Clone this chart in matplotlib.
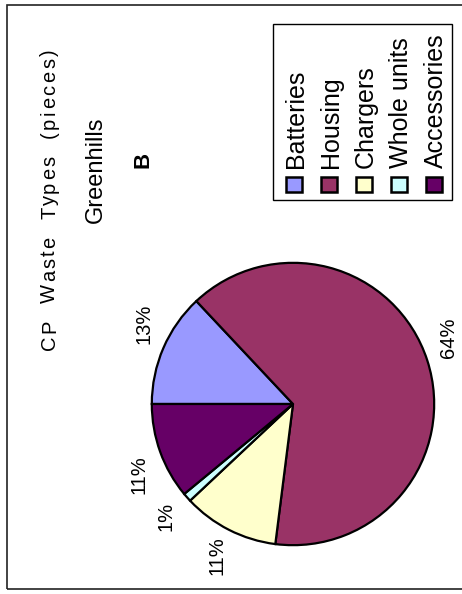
import numpy as np
import matplotlib
matplotlib.use("Agg")
import matplotlib.pyplot as plt
from matplotlib.patches import Rectangle
from matplotlib.font_manager import FontProperties

# ---- data ----
categories = ["Batteries", "Housing", "Chargers", "Whole units", "Accessories"]
values = [13, 64, 11, 1, 11]
colors = ["#9999FF", "#993366", "#FFFFCC", "#CCFFFF", "#660066"]
title = "CP Waste Types (pieces)"
subtitle = "Greenhills"
panel = "B"

# label angle nudges (degrees) to mimic the original label placement
label_shift = [-5, 5, 0.5, 0, 5]

W, H = 462, 594
fig = plt.figure(figsize=(W / 100, H / 100), dpi=100)
FONT = "Liberation Sans"


def fx(x):
    return x / W


def fy(y):
    return 1 - y / H


# outer border (right side runs off canvas)
fig.patches.append(Rectangle((fx(7), fy(589)), fx(480) - fx(7), fy(5) - fy(589),
                             transform=fig.transFigure, fill=False,
                             edgecolor="#222222", linewidth=1.2))

# ---- pie ----
cx, cy, r = 293, 404, 144
ax = fig.add_axes([fx(cx - r), fy(cy + r), 2 * r / W, 2 * r / H])
wedges, texts, autotexts = ax.pie(
    values, colors=colors, startangle=180, counterclock=False,
    autopct=lambda p: f"{p:.0f}%", pctdistance=1.2, radius=1,
    wedgeprops=dict(edgecolor="black", linewidth=1.6),
    textprops=dict(rotation=90, fontsize=14.5, family=FONT))
for w, t, s in zip(wedges, autotexts, label_shift):
    mid = np.deg2rad((w.theta1 + w.theta2) / 2 + s)
    t.set_position((1.2 * np.cos(mid), 1.2 * np.sin(mid)))
ax.set_xlim(-1.02, 1.02)
ax.set_ylim(-1.02, 1.02)
ax.axis("off")

renderer = fig.canvas.get_renderer()


def text_w(s, fp):
    return renderer.get_text_width_height_descent(s, fp, ismath=False)[0]


# ---- letter-spaced rotated text (reads bottom to top) ----
def spaced_text(s, x_base, y_start, size_pt, total_len, extra=2.5, **kw):
    fp = FontProperties(family=FONT, size=size_pt)
    hw = text_w("H", fp)
    pos = [0.0] + [text_w(s[:i] + "H", fp) - hw for i in range(1, len(s))]
    nsp = s.count(" ")
    natural = text_w(s, fp) + (len(s) - 1) * extra
    sp_extra = (total_len - natural) / max(nsp, 1)
    spaces_before = 0
    for i, ch in enumerate(s):
        if ch == " ":
            spaces_before += 1
            continue
        y = y_start - (pos[i] + i * extra + spaces_before * sp_extra)
        fig.text(fx(x_base), fy(y), ch, rotation=90, rotation_mode="anchor",
                 ha="left", va="baseline", fontproperties=fp, **kw)


spaced_text(title, 55, 350, 14.5, total_len=301)
fig.text(fx(102), fy(223), subtitle, rotation=90, rotation_mode="anchor",
         ha="left", va="baseline", fontsize=17, family=FONT)
fig.text(fx(148), fy(168), panel, rotation=90, rotation_mode="anchor",
         ha="left", va="baseline", fontsize=16, family=FONT, weight="bold")

# ---- legend (rotated) ----
fig.patches.append(Rectangle((fx(273), fy(200)), fx(452) - fx(273), fy(24) - fy(200),
                             transform=fig.transFigure, fill=False,
                             edgecolor="black", linewidth=1.0))
for i, (lab, col) in enumerate(zip(categories, colors)):
    base = 303 + 35 * i
    fig.patches.append(Rectangle((fx(base - 17), fy(192)), 16 / W, 15 / H,
                                 transform=fig.transFigure, facecolor=col,
                                 edgecolor="black", linewidth=1.8))
    fig.text(fx(base), fy(168), lab, rotation=90, rotation_mode="anchor",
             ha="left", va="baseline", fontsize=18, family=FONT)

fig.savefig("out.png", dpi=100)
